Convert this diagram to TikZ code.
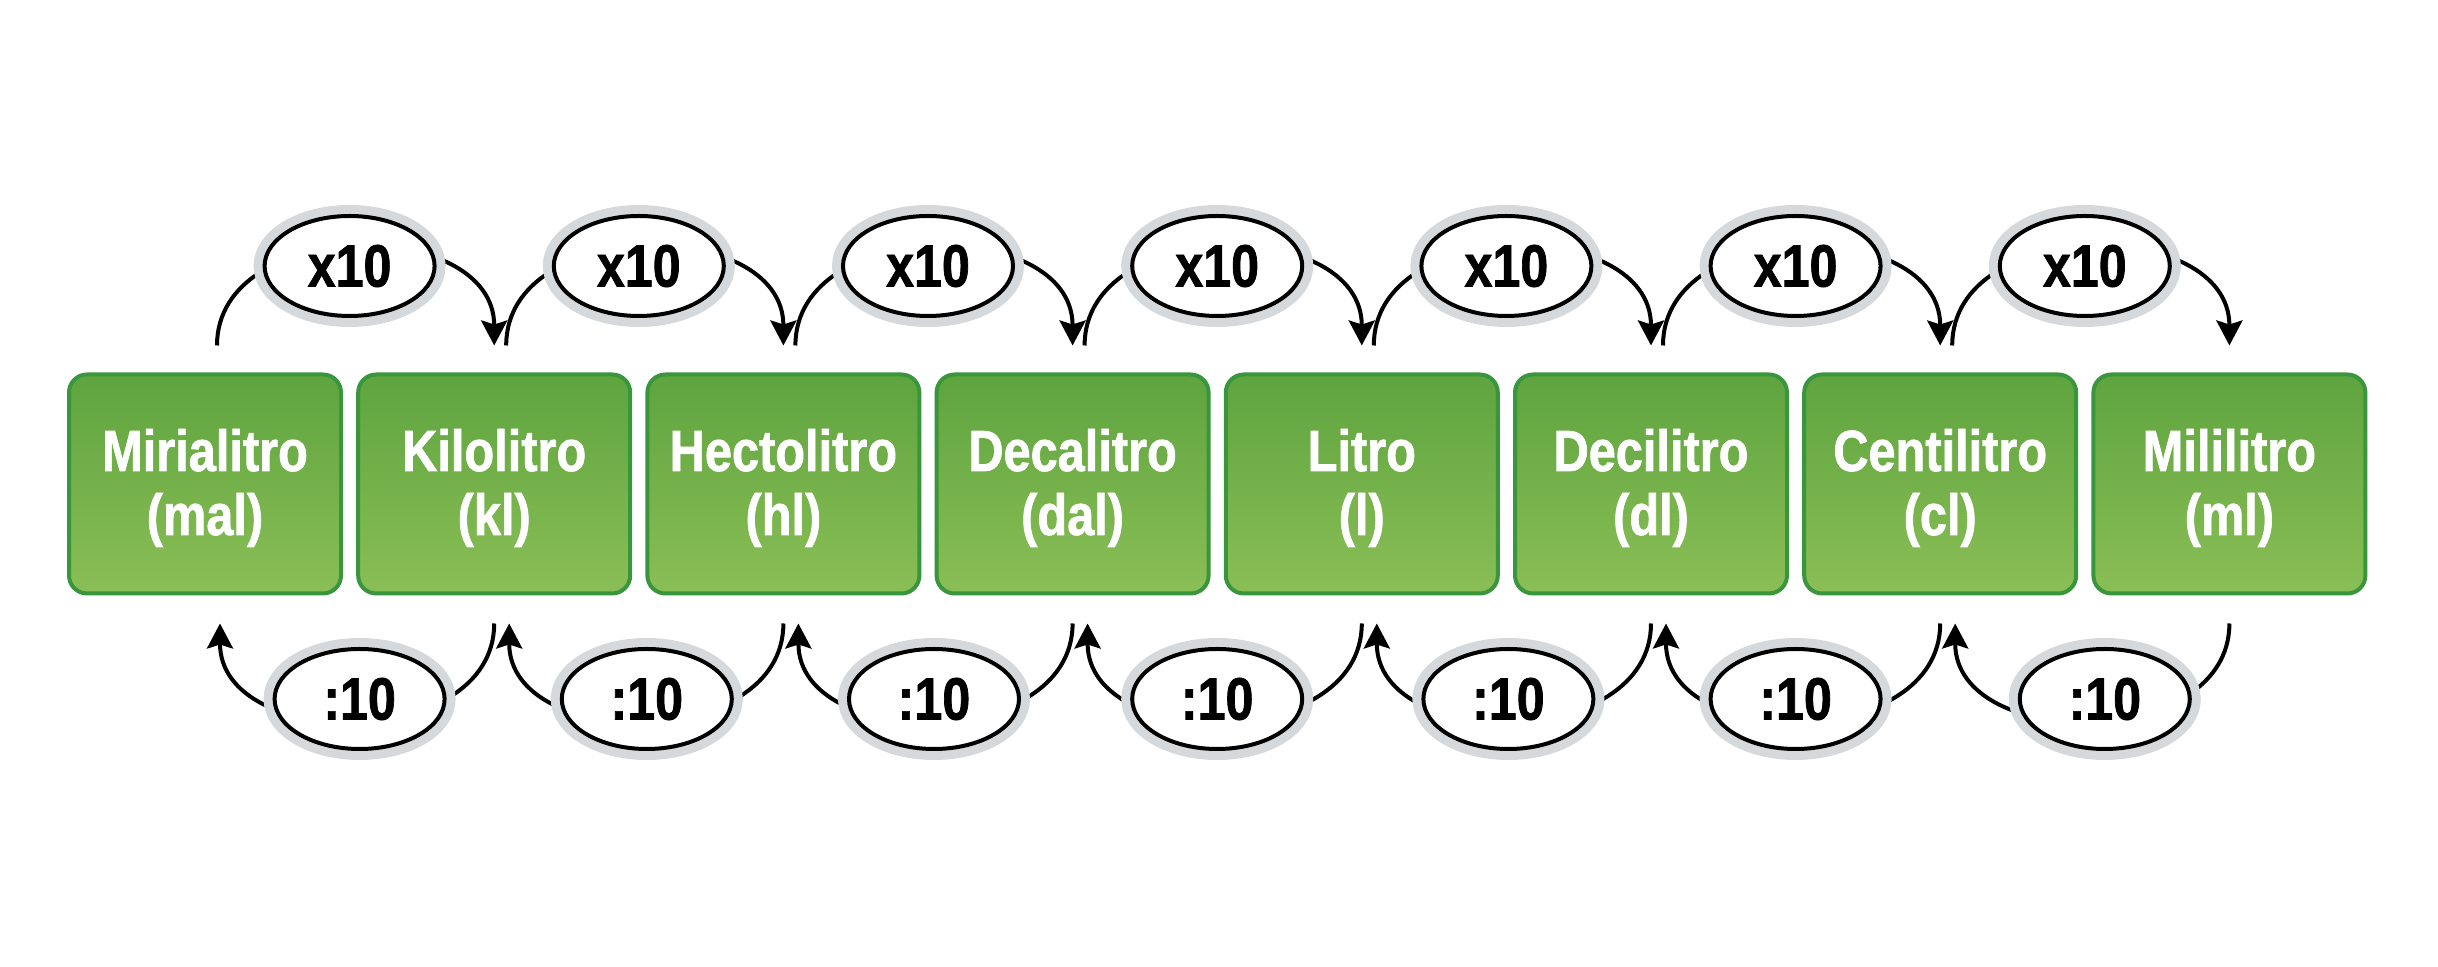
\documentclass[tikz,border=0pt]{standalone}
\usepackage{fontspec}
\usepackage{tikz}
\usetikzlibrary{arrows.meta,positioning,shapes.geometric,calc}
\newfontfamily\labfont[FakeStretch=0.84, BoldFeatures={FakeBold=1.2}]{Liberation Sans}
\definecolor{boxtop} {RGB}{94,164,63}
\definecolor{boxbot} {RGB}{139,190,86}
\definecolor{boxline}{RGB}{58,150,60}
\definecolor{ringgray}{RGB}{214,217,220}
\tikzset{
  unitbox/.style={draw=boxline, line width=0.4mm, rounded corners=1.8mm,
                  top color=boxtop, bottom color=boxbot,
                  minimum width=2.72cm, minimum height=2.19cm,
                  text=white, align=center, inner sep=0pt,
                  font=\labfont\bfseries\fontsize{16.5}{18.2}\selectfont},
  factor/.style ={ellipse, draw=black, line width=0.4mm, fill=white,
                  minimum width=1.7cm, minimum height=1.0cm, inner sep=0pt,
                  preaction={draw=ringgray, line width=2.2mm},
                  font=\labfont\bfseries\fontsize{17}{19}\selectfont},
  conv/.style   ={-{Stealth[length=2.5mm, width=2.6mm, inset=0.4mm]},
                  line width=0.4mm},
}
\begin{document}
\begin{tikzpicture}
  \useasboundingbox (0,0) rectangle (24.38,9.67);
  % unit boxes
  \foreach \name/\abbr [count=\i] in {Mirialitro/mal, Kilolitro/kl,
      Hectolitro/hl, Decalitro/dal, Litro/l, Decilitro/dl,
      Centilitro/cl, Mililitro/ml}
    \node[unitbox] (b\i) at ({2.05+(\i-1)*2.892},4.83)
      {\rule{0pt}{5mm}\name\\(\abbr)};
  % x10 above, :10 below
  \foreach \i/\dx in {1/0.1, 2/0.08, 3/0.06, 4/0.0, 5/0.02, 6/0.0, 7/0.2} {
    \pgfmathtruncatemacro{\j}{\i+1}
    \draw[conv] ([xshift=1.2mm, yshift=2.7mm]b\i.north)
      to[out=90, in=90, looseness=1.2] ([yshift=2.7mm]b\j.north);
    \draw[conv] ([yshift=-2.8mm]b\j.south)
      to[out=-90, in=-90, looseness=1.2] ([xshift=1.5mm, yshift=-2.8mm]b\i.south);
    \node[factor] (up\i) at ({2.05+(\i-0.5)*2.892},7.01) {x10};
    \node[factor] (dn\i) at ({2.05+(\i-0.5)*2.892+\dx},2.68) {:10};
  }
\end{tikzpicture}
\end{document}
